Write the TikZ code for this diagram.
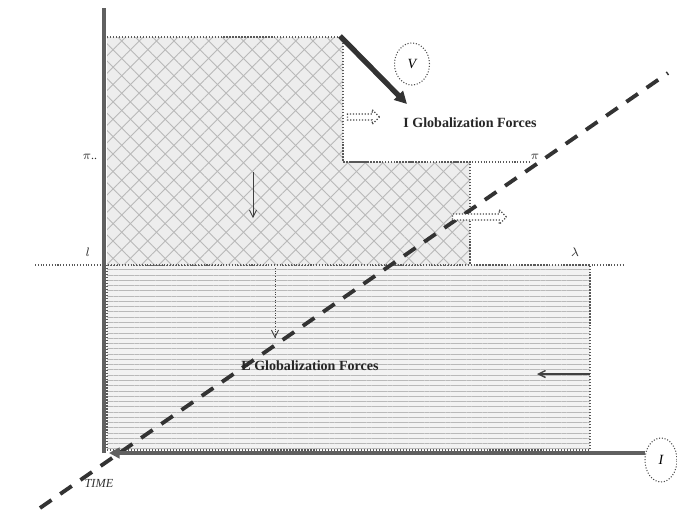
\documentclass[tikz,border=0pt]{standalone}
\usepackage{fontspec}
\setmainfont{Liberation Serif}
\usetikzlibrary{patterns.meta,arrows.meta,shapes.geometric,shapes.arrows}
\begin{document}
\begin{tikzpicture}[x=0.02cm,y=-0.02cm,
  axisline/.style={line width=2.4pt,draw=gray!75!black},
  guide/.style={densely dotted,line width=0.6pt,draw=gray!70!black},
  regionborder/.style={densely dotted,line width=0.7pt,draw=gray!70!black},
  dashline/.style={line width=2.2pt,draw=gray!40!black,dash pattern=on 8pt off 6pt},
  roundlabel/.style={ellipse,densely dotted,draw=gray!60!black,line width=0.6pt,inner sep=0pt,font=\fontsize{8}{9}\selectfont\itshape},
  lbl/.style={font=\fontsize{8}{10}\selectfont\bfseries,text=gray!30!black,inner sep=1pt},
  small/.style={font=\fontsize{7}{8}\selectfont\itshape,text=gray!40!black,inner sep=1pt},
  hollowarrow/.style={single arrow,draw=gray!55!black,densely dotted,line width=0.7pt,fill=white,inner sep=1.3pt,single arrow head extend=2.5pt,single arrow head indent=0pt},
  thinarrow/.style={draw=gray!50!black,line width=0.5pt,-{Straight Barb[length=4pt,width=4pt]}}]
\useasboundingbox (0,0) rectangle (677,528);
% lower region
\fill[gray!10] (107,265) rectangle (590,450);
\fill[pattern={Lines[angle=0,distance=3pt,line width=0.5pt]},pattern color=gray!55] (107,265) rectangle (590,450);
\draw[regionborder] (107,265) rectangle (590,450);
% upper region
\path[fill=gray!14] (107,37) -- (343,37) -- (343,162) -- (470,162) -- (470,265) -- (107,265) -- cycle;
\path[pattern={Lines[angle=45,distance=7pt,line width=0.5pt]},pattern color=gray!55] (107,37) -- (343,37) -- (343,162) -- (470,162) -- (470,265) -- (107,265) -- cycle;
\path[pattern={Lines[angle=-45,distance=7pt,line width=0.5pt]},pattern color=gray!55] (107,37) -- (343,37) -- (343,162) -- (470,162) -- (470,265) -- (107,265) -- cycle;
\draw[regionborder] (107,37) -- (343,37) -- (343,162) -- (470,162) -- (470,265);
% guide lines
\coordinate (g1a) at (343,162);
\coordinate (g1b) at (530,162);
\draw[guide] (g1a) -- (g1b);
\coordinate (g2a) at (35,265);
\coordinate (g2b) at (625,265);
\draw[guide] (g2a) -- (g2b);
% labels on guides
\node[small] (pil) at (90,157) {$\pi$..};
\node[small] (pir) at (535,157) {$\pi$};
\node[small] (ll) at (88,252) {$l$};
\node[small] (lr) at (575,252) {$\lambda$};
% dashed diagonal
\coordinate (d1) at (40,508);
\coordinate (d2) at (668,73);
\draw[dashline] (d1) -- (d2);
% axes
\coordinate (o) at (104,453);
\coordinate (ytop) at (104,8);
\node[roundlabel,minimum width=0.64cm,minimum height=0.88cm] (I) at (661,460) {I};
\draw[axisline] (o) -- (ytop);
\draw[axisline,{Triangle[length=6pt,width=6pt]}-] (109,453) -- (645,453);
\node[small] (time) at (99,483) {TIME};
% V arrow
\node[roundlabel,minimum width=0.7cm,minimum height=0.84cm] (V) at (412,64) {V};
\coordinate (v1) at (340,36);
\coordinate (v2) at (407,104);
\draw[line width=3pt,draw=gray!40!black,-{Triangle[length=7pt,width=7pt]}] (v1) -- (v2);
% texts
\node[lbl] (ig) at (470,123) {I Globalization Forces};
\node[lbl] (eg) at (310,366) {E Globalization Forces};
% hollow arrows
\node[hollowarrow,minimum height=0.64cm] (h1) at (362,117) {};
\node[hollowarrow,minimum height=1.08cm] (h2) at (478,217) {};
% thin arrows
\coordinate (t1a) at (253,172);
\coordinate (t1b) at (253,218);
\draw[thinarrow] (t1a) -- (t1b);
\coordinate (t2a) at (275,268);
\coordinate (t2b) at (275,338);
\draw[thinarrow,densely dotted] (t2a) -- (t2b);
\coordinate (t3a) at (590,374);
\coordinate (t3b) at (537,374);
\draw[thinarrow,line width=0.8pt] (t3a) -- (t3b);
\end{tikzpicture}
\end{document}
